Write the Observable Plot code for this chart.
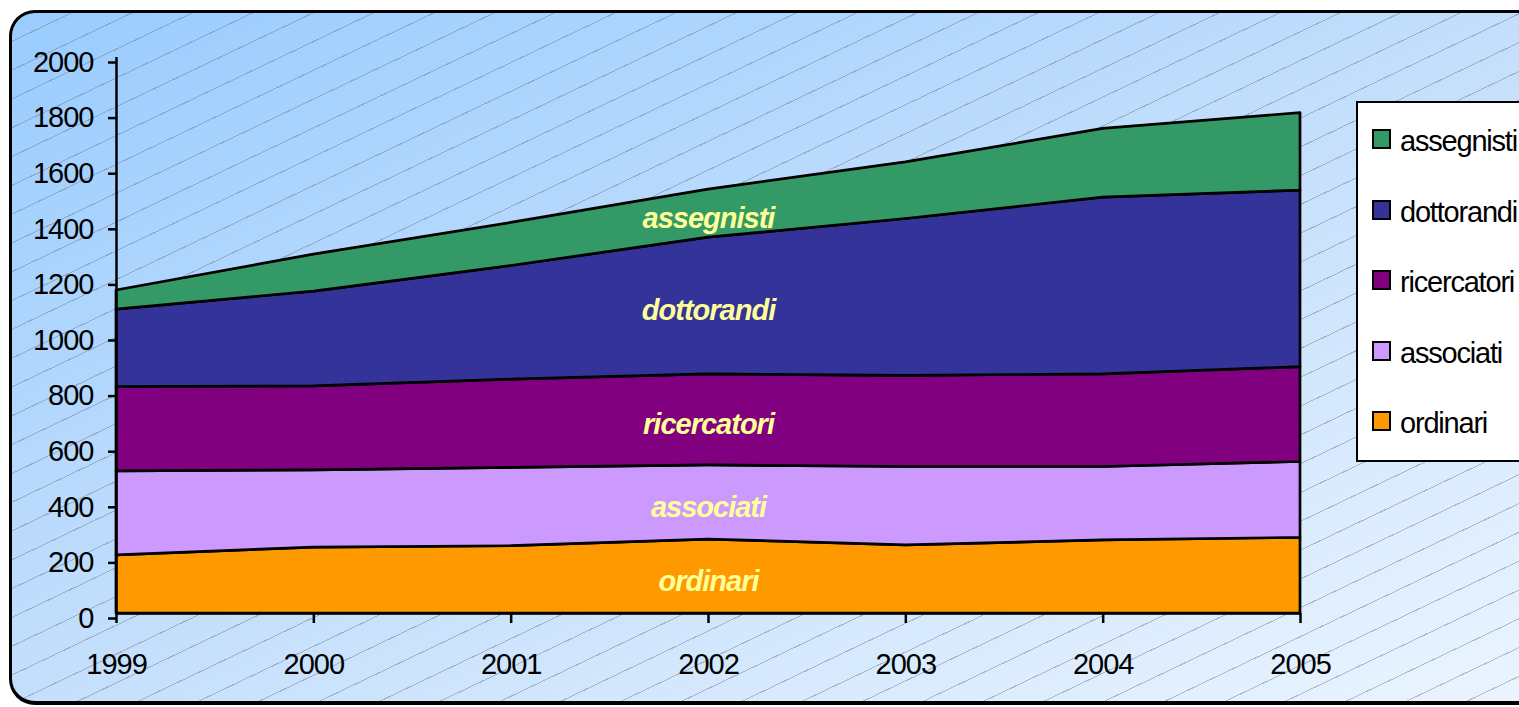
<!DOCTYPE html>
<html><head><meta charset="utf-8">
<script src="https://cdn.jsdelivr.net/npm/d3@7"></script>
<script src="https://cdn.jsdelivr.net/npm/@observablehq/plot@0.6"></script>
<style>
html,body{margin:0;padding:0;background:#fff;overflow:hidden}
#wrap{position:relative;width:1519px;height:707px;overflow:hidden;font-family:"Liberation Sans",Arial,sans-serif}
#frame{position:absolute;left:9px;top:10px;width:1560px;height:688px;border:3px solid #000;border-bottom-width:4px;border-radius:26px;
  background:
    repeating-linear-gradient(154.5deg, rgba(255,255,255,0) 0px, rgba(255,255,255,0) 25px, rgba(105,115,135,.45) 25px, rgba(105,115,135,.45) 26px),
    linear-gradient(to bottom right, #99ccff 0%, #c4dffc 50%, #ecf5ff 100%);}
#chart{position:absolute;left:0;top:0}
#chart svg text{letter-spacing:-1px}
#legend{position:absolute;left:1356px;top:101px;width:300px;height:357px;border:2px solid #000;background:#fff}
.item{position:absolute;left:0;height:30px}
.sw{position:absolute;left:14px;top:0;width:15px;height:16px;border:2px solid #000}
.lt{position:absolute;left:42px;top:-2px;font-size:29px;line-height:29px;letter-spacing:-1.2px;color:#000;white-space:nowrap}
</style></head>
<body>
<div id="wrap"><div id="frame"></div><div id="chart"></div><div id="legend"></div></div>
<script>
const years = [1999, 2000, 2001, 2002, 2003, 2004, 2005];
const series = ["ordinari", "associati", "ricercatori", "dottorandi", "assegnisti"];
const colors = ["#ff9900", "#cc99ff", "#800080", "#333399", "#339966"];
const ordinari    = [209, 237, 242, 266, 245, 263, 272];
const associati   = [302, 278, 282, 267, 282, 264, 273];
const ricercatori = [303, 302, 317, 327, 328, 333, 341];
const dottorandi  = [279, 341, 409, 492, 564, 636, 635];
const assegnisti  = [69, 133, 155, 173, 204, 247, 279];
const yTicks = [0, 200, 400, 600, 800, 1000, 1200, 1400, 1600, 1800, 2000];
const labelYear = 2002;

const valuesBySeries = {ordinari, associati, ricercatori, dottorandi, assegnisti};
const data = [];
series.forEach(s => years.forEach((yr, j) => data.push({series: s, year: yr, value: valuesBySeries[s][j]})));

const chart = Plot.plot({
  width: 1519, height: 707,
  marginLeft: 116, marginRight: 219, marginTop: 57, marginBottom: 94,
  style: {background: "transparent", fontFamily: "'Liberation Sans', Arial, sans-serif", fontSize: "29px", color: "#000", overflow: "visible"},
  x: {domain: [1999, 2005], label: null},
  y: {domain: [0, 2000], label: null},
  color: {domain: series, range: colors},
  marks: [
    Plot.areaY(data, {x: "year", y: "value", fill: "series", z: "series", order: series, stroke: "#000", strokeWidth: 2.7, strokeLinejoin: "round"}),
    Plot.text(data.filter(d => d.year === labelYear), Plot.stackY({x: "year", y: "value", z: "series", order: series, text: "series",
      fill: "#ffff99", fontSize: 29, fontWeight: "bold", fontStyle: "italic", dy: 5})),
    Plot.ruleY([0], {stroke: "#000", strokeWidth: 2.5}),
    Plot.ruleX([1999], {y1: 0, y2: 2000, stroke: "#000", strokeWidth: 2.5}),
    Plot.axisY({ticks: yTicks, tickSize: 8, tickPadding: 15, tickFormat: "d", dy: 5, strokeWidth: 2.5, label: null}),
    Plot.axisX({ticks: years, tickSize: 10, tickPadding: 30, tickFormat: "d", strokeWidth: 2.5, label: null})
  ]
});
document.getElementById("chart").appendChild(chart);

// legend (top series first)
const legend = document.getElementById("legend");
series.slice().reverse().forEach((s, i) => {
  const it = document.createElement("div");
  it.className = "item";
  it.style.top = (26 + i * 70.5) + "px";
  const sw = document.createElement("div");
  sw.className = "sw";
  sw.style.background = colors[series.indexOf(s)];
  const lt = document.createElement("div");
  lt.className = "lt";
  lt.textContent = s;
  it.appendChild(sw); it.appendChild(lt);
  legend.appendChild(it);
});
</script>
</body></html>
